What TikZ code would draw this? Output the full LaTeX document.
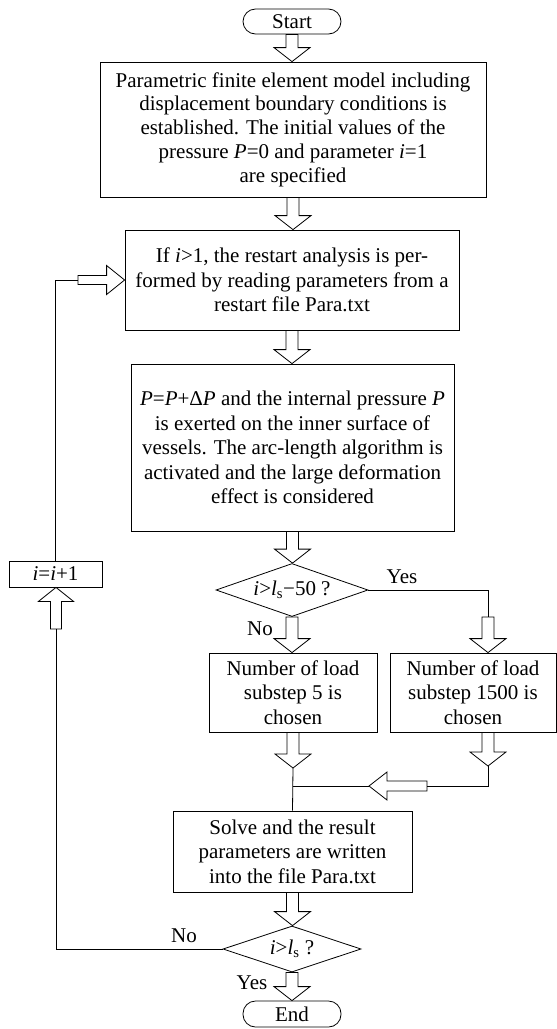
\documentclass[tikz,border=0pt]{standalone}
\usepackage{fontspec}
\setmainfont{Liberation Serif}
\usetikzlibrary{shapes.geometric,calc}

\tikzset{
  base/.style={draw, line width=0.8pt, font=\fontsize{21}{24.5}\selectfont, align=center, inner sep=1pt},
  proc/.style={base, rectangle},
  term/.style={base, rectangle, rounded corners=12.5pt, minimum width=98pt, minimum height=25pt},
  test/.style={base, diamond, inner sep=0pt},
  lbl/.style={font=\fontsize{21}{24.5}\selectfont, inner sep=0pt},
  line/.style={draw, line width=0.8pt},
  fatdown/.style={line, to path={let \p1=(\tikztostart), \p2=(\tikztotarget) in
    (\x1-6pt,\y1) -- (\x1-6pt,\y2+14pt) -- (\x1-18pt,\y2+14pt) -- (\x1,\y2)
    -- (\x1+18pt,\y2+14pt) -- (\x1+6pt,\y2+14pt) -- (\x1+6pt,\y1) -- cycle}},
  fatup/.style={line, to path={let \p1=(\tikztostart), \p2=(\tikztotarget) in
    (\x1-5.5pt,\y1) -- (\x1-5.5pt,\y2-14pt) -- (\x1-17.5pt,\y2-14pt) -- (\x1,\y2)
    -- (\x1+17.5pt,\y2-14pt) -- (\x1+5.5pt,\y2-14pt) -- (\x1+5.5pt,\y1) -- cycle}},
  fatright/.style={line, to path={let \p1=(\tikztostart), \p2=(\tikztotarget) in
    (\x1,\y1-4.5pt) -- (\x2-18pt,\y1-4.5pt) -- (\x2-18pt,\y1-14.5pt) -- (\x2,\y1)
    -- (\x2-18pt,\y1+14.5pt) -- (\x2-18pt,\y1+4.5pt) -- (\x1,\y1+4.5pt) -- cycle}},
  fatleft/.style={line, to path={let \p1=(\tikztostart), \p2=(\tikztotarget) in
    (\x1,\y1-5pt) -- (\x2+18pt,\y1-5pt) -- (\x2+18pt,\y1-14pt) -- (\x2,\y1)
    -- (\x2+18pt,\y1+14pt) -- (\x2+18pt,\y1+5pt) -- (\x1,\y1+5pt) -- cycle}},
}

\begin{document}
\begin{tikzpicture}[x=1pt,y=-1pt]
\useasboundingbox (0,0) rectangle (557,1029);

% main column
\node[term] (start) at (292,21.5) {Start};
\node[proc, minimum width=386pt, minimum height=135pt, font=\fontsize{21}{23.7}\selectfont] (model) at (293,129.5)
  {Parametric finite element model including\\displacement boundary conditions is\\established. The initial values of the\\pressure \textit{P}=0 and parameter \textit{i}=1\\are specified};
\node[proc, minimum width=334pt, minimum height=100pt] (restart) at (292,280)
  {If \textit{i}>1, the restart analysis is per-\\formed by reading parameters from a\\restart file Para.txt};
\node[proc, minimum width=323pt, minimum height=167pt] (load) at (292.5,447.5)
  {\textit{P}=\textit{P}+Δ\textit{P} and the internal pressure \textit{P}\\is exerted on the inner surface of\\vessels. The arc-length algorithm is\\activated and the large deformation\\effect is considered};
\node[test, aspect=2.9, minimum width=152pt, minimum height=53pt] (chk1) at (292,590)
  {\textit{i}>\textit{l}\textsubscript{s}−50 ?};
\node[proc, minimum width=168pt, minimum height=79pt] (sub5) at (293,692.5)
  {Number of load\\substep 5 is\\chosen};
\node[proc, minimum width=166pt, minimum height=79pt] (sub1500) at (473,692.5)
  {Number of load\\substep 1500 is\\chosen};
\node[proc, minimum width=239pt, minimum height=81pt] (solve) at (292.5,851.5)
  {Solve and the result\\parameters are written\\into the file Para.txt};
\node[test, aspect=3, minimum width=138pt, minimum height=46pt] (chk2) at (292,949)
  {\textit{i}>\textit{l}\textsubscript{s} ?};
\node[term, minimum height=26pt] (end) at (292,1014) {End};

% counter
\node[proc, minimum width=93pt, minimum height=26pt] (inc) at (55.5,574) {\textit{i}=\textit{i}+1};

% labels
\node[lbl] (yes1) at (402,577) {Yes};
\node[lbl] (no1) at (260,629) {No};
\node[lbl] (no2) at (184,936) {No};
\node[lbl] (yes2) at (252,983) {Yes};

% helper points
\coordinate (ydrop) at (488,617);
\coordinate (rtip) at (488,766);
\coordinate (rturn) at (488,786);
\coordinate (lshaft) at (427,786);
\coordinate (ltip) at (369,786);
\coordinate (merge) at (293,786);
\coordinate (mtip) at (293,768);
\coordinate (upbase) at (56,629);
\coordinate (rshaft) at (78,280);

% connectors
\draw[fatdown] (start.south) to (model.north);
\draw[fatdown] (model.south) to (restart.north);
\draw[fatdown] (restart.south) to (load.north);
\draw[fatdown] (load.south) to (chk1.north);
\draw[fatdown] (chk1.south) to (sub5.north);
\draw[line] (chk1.east) -| (ydrop);
\draw[fatdown] (ydrop) to (ydrop |- sub1500.north);
\draw[fatdown] (ydrop |- sub1500.south) to (rtip);
\draw[line] (rtip) -- (rturn) -- (lshaft);
\draw[fatleft] (lshaft) to (ltip);
\draw[line] (ltip) -- (merge);
\draw[fatdown] (sub5.south) to (mtip);
\draw[line] (mtip) -- (solve.north);
\draw[fatdown] (solve.south) to (chk2.north);
\draw[fatdown] (chk2.south) to (end.north);
\draw[line] (chk2.west) -| (upbase);
\draw[fatup] (upbase) to (inc.south);
\draw[line] (inc.north) |- (rshaft);
\draw[fatright] (rshaft) to (restart.west);
\end{tikzpicture}
\end{document}
